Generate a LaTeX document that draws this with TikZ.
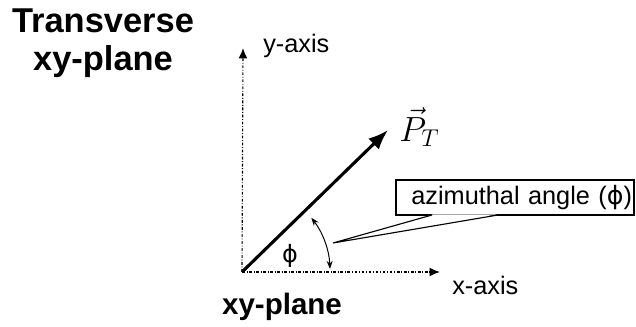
\documentclass[tikz,border=0pt]{standalone}
\usepackage{fontspec}
\setmainfont{Liberation Sans}
\newfontfamily\phifont{DejaVu Sans}
\usetikzlibrary{arrows.meta,positioning}

\begin{document}
\begin{tikzpicture}[x=0.025cm,y=0.025cm,
  axis/.style={-{Latex[length=2.6mm,width=2.2mm]},line width=0.8pt,
               dash pattern=on 2pt off 1.2pt on 0.6pt off 1.2pt},
  vector/.style={-{Latex[length=5mm,width=3.8mm]},line width=2.2pt},
  axislabel/.style={inner sep=0pt,font=\fontsize{18}{20}\selectfont},
  heading/.style={inner sep=0pt,align=center,font=\fontsize{24.5}{27}\selectfont\bfseries},
  calloutbox/.style={draw,line width=0.8pt,fill=white,minimum height=0.875cm,
              inner xsep=0.05cm,text width=5.85cm,align=right,font=\fontsize{18}{20}\selectfont},
  anglearrow/.style={{Stealth[length=2mm]}-{Stealth[length=2mm]},line width=0.7pt}
]
\useasboundingbox (0,0) rectangle (636,327);
\coordinate (origin) at (242,55);
\coordinate (ytip) at (243,279);
\coordinate (xtip) at (440,55);
\coordinate (ptip) at (388,197);
\coordinate (phitip) at (333,84);
\node[heading] (title) at (103,284) {Transverse\\xy-plane};
\node[axislabel,anchor=base west] (ylabel) at (263,274) {y-axis};
\node[axislabel,anchor=base west] (xlabel) at (452,32) {x-axis};
\node[inner sep=0pt,anchor=base,font=\fontsize{21}{24}\selectfont\bfseries] (plane) at (282,12) {xy-plane};
\node[inner sep=0pt,anchor=west] (ptlabel) at (399,200) {\fontsize{24}{26}\selectfont$\vec{P}_{T}$};
\node[inner sep=0pt,font=\fontsize{17}{20}\selectfont\phifont] (philabel) at (290,71) {ϕ};
\draw[axis] (origin) -- (ytip);
\draw[axis] (origin) -- (xtip);
\draw[vector] (origin) -- (ptip);
\draw[anglearrow] ([shift={(38:88)}]origin) arc[start angle=38,end angle=2,radius=88];
% callout with its tail
\node[calloutbox] (callout) at (515,129.5) {azimuthal angle ({\phifont ϕ})};
\fill[white] (433,112.6) -- (phitip) -- (497,112.6) -- cycle;
\draw[line width=0.8pt] (432,112) -- (phitip) -- (498,112);
\end{tikzpicture}
\end{document}
